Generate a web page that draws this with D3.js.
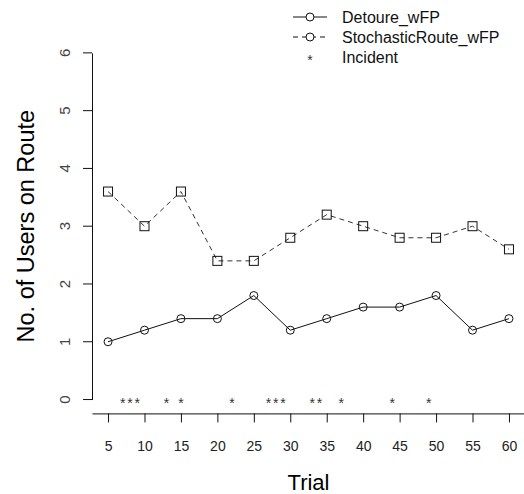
<!DOCTYPE html>
<html>
<head>
<meta charset="utf-8">
<script src="https://cdn.jsdelivr.net/npm/d3@7"></script>
<style>
body{margin:0;background:#fff}
text{font-family:"Liberation Sans",Arial,sans-serif}
</style>
</head>
<body>
<div id="chart"></div>
<script>
var width = 524
var height = 494

// data
var trials = [5,10,15,20,25,30,35,40,45,50,55,60]
var detoure = [1.0,1.2,1.4,1.4,1.8,1.2,1.4,1.6,1.6,1.8,1.2,1.4]
var stochastic = [3.6,3.0,3.6,2.4,2.4,2.8,3.2,3.0,2.8,2.8,3.0,2.6]
var incidents = [7,8,9,13,15,22,27,28,29,33,34,37,44,49]
var yTicks = [0,1,2,3,4,5,6]
var legendLabels = ["Detoure_wFP","StochasticRoute_wFP","Incident"]

var svg = d3.select("#chart").append("svg")
	.attr("width",width)
	.attr("height",height)

// R style 4% padding around the data range
var x = d3.scaleLinear().domain([2.8,62.2]).range([92,525])
var y = d3.scaleLinear().domain([-0.24,6.24]).range([413.4,39])

// x axis
var xAxis = d3.axisBottom(x).tickValues(trials).tickSize(9).tickSizeOuter(0)
var gx = svg.append("g")
	.attr("transform","translate(0,"+y.range()[0]+")")
	.call(xAxis)
gx.selectAll("text")
	.attr("y",38).attr("dy",0)
	.style("font-size","14px").style("fill","#222")

// y axis, line only from 0 to 6
var yAxisScale = y.copy().domain([0,6]).range([y(0),y(6)])
var gy = svg.append("g")
	.attr("transform","translate("+x.range()[0]+",0)")
	.call(d3.axisLeft(yAxisScale).tickValues(yTicks).tickFormat(d3.format("d")).tickSize(9).tickSizeOuter(0))
// labels parallel to the axis like R's las=0
gy.selectAll(".tick").each(function(d){
	var t = d3.select(this)
	t.attr("transform",null)
	t.select("line").attr("y1",yAxisScale(d)).attr("y2",yAxisScale(d))
	t.select("text")
		.attr("x",0).attr("y",0).attr("dy",0)
		.attr("text-anchor","middle")
		.attr("transform","translate(-22,"+yAxisScale(d)+") rotate(-90)")
		.style("font-size","15px").style("fill","#444")
})
svg.selectAll(".domain,.tick line").style("stroke","#111")

// axis titles
svg.append("text")
	.attr("x",(x.range()[0]+x.range()[1])/2)
	.attr("y",490)
	.attr("text-anchor","middle")
	.style("font-size","22px")
	.text("Trial")
svg.append("text")
	.attr("transform","translate(34,"+((y.range()[0]+y.range()[1])/2)+") rotate(-90)")
	.attr("text-anchor","middle")
	.style("font-size","23.5px")
	.text("No. of Users on Route")

var line = d3.line()
	.x(function(d,i){ return x(trials[i]) })
	.y(function(d){ return y(d) })

// stochastic route (dashed, squares)
svg.append("path")
	.datum(stochastic)
	.attr("d",line)
	.style("fill","none")
	.style("stroke","#333")
	.style("stroke-width",1)
	.style("stroke-dasharray","5,4")
svg.selectAll(".sq")
	.data(stochastic)
	.enter()
	.append("rect")
	.attr("class","sq")
	.attr("x",function(d,i){ return x(trials[i])-4.5 })
	.attr("y",function(d){ return y(d)-4.5 })
	.attr("width",9)
	.attr("height",9)
	.style("fill","none")
	.style("stroke","#111")

// detoure (solid, circles)
svg.append("path")
	.datum(detoure)
	.attr("d",line)
	.style("fill","none")
	.style("stroke","#111")
	.style("stroke-width",1)
svg.selectAll(".ci")
	.data(detoure)
	.enter()
	.append("circle")
	.attr("class","ci")
	.attr("cx",function(d,i){ return x(trials[i]) })
	.attr("cy",function(d){ return y(d) })
	.attr("r",4)
	.style("fill","none")
	.style("stroke","#111")

// incidents as asterisks at 0
svg.selectAll(".inc")
	.data(incidents)
	.enter()
	.append("text")
	.attr("class","inc")
	.attr("x",function(d){ return x(d) })
	.attr("y",y(0)+8)
	.attr("text-anchor","middle")
	.style("font-size","14px")
	.style("fill","#333")
	.text("*")

// legend
var legendY = [17,37,57]
var lg = svg.append("g")
lg.selectAll(".lt")
	.data(legendLabels)
	.enter()
	.append("text")
	.attr("x",342)
	.attr("y",function(d,i){ return legendY[i] })
	.attr("dy","0.35em")
	.style("font-size","16px")
	.style("fill","#111")
	.text(function(d){ return d })
for(var i=0;i<2;i++){
	lg.append("line")
		.attr("x1",293).attr("x2",327)
		.attr("y1",legendY[i]).attr("y2",legendY[i])
		.style("stroke","#111")
		.style("stroke-dasharray",i==1 ? "5,4" : null)
	lg.append("circle")
		.attr("cx",310).attr("cy",legendY[i]).attr("r",4)
		.style("fill","#fff").style("stroke","#111")
}
lg.append("text")
	.attr("x",310)
	.attr("y",legendY[2]+8)
	.attr("text-anchor","middle")
	.style("font-size","14px")
	.style("fill","#333")
	.text("*")
</script>
</body>
</html>
